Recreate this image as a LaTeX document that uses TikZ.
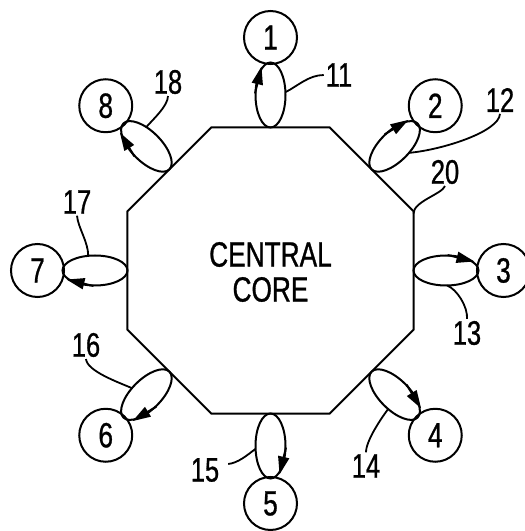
\documentclass[tikz,border=0pt]{standalone}
\usepackage{fontspec}
\setmainfont{Liberation Sans}[FakeStretch=0.75,FakeBold=0.8]
\usetikzlibrary{arrows.meta}
\begin{document}
\begin{tikzpicture}[x=1pt,y=1pt,
  line width=2pt,
  numcirc/.style={draw,circle,minimum size=53pt,inner sep=0pt,font=\fontsize{35}{35}\selectfont},
  lbl/.style={inner sep=1pt,font=\fontsize{34}{34}\selectfont},
  leader/.style={line width=1.8pt},
  flowarrow/.style={-{Triangle[length=18pt,width=11pt]}}
]
\useasboundingbox (0,0) rectangle (525,531);
\begin{scope}[shift={(270.5,260.5)}]
  % octagon corners
  \foreach \i/\a in {1/22.5,2/67.5,3/112.5,4/157.5,5/202.5,6/247.5,7/292.5,8/337.5}
    \coordinate (v\i) at (\a:154.8);
  \draw (v1) -- (v2) -- (v3) -- (v4) -- (v5) -- (v6) -- (v7) -- (v8) -- cycle;
  \coordinate (p20) at (143,57);
  \node[align=center,font=\fontsize{35}{35}\selectfont] (core) at (0,-1.5) {CENTRAL\\CORE};
  % loops and numbered circles
  \foreach \k/\ang/\att in {1/90/-85,2/45/-80,3/0/-88,4/-45/-80,5/-90/-85,6/-135/-80,7/180/-78,8/135/-65} {
    \begin{scope}[rotate=\ang]
      \draw (175.5,0) ellipse [x radius=32.5,y radius=15];
      \coordinate (s\k) at (177,15.5);
      \coordinate (t\k) at (204,9);
      \draw[flowarrow] (s\k) -- (t\k);
      \coordinate (a\k) at ([shift={(175.5,0)}]\att:32.5 and 15);
    \end{scope}
    \node[numcirc] (c\k) at (\ang:233) {\k};
  }
\end{scope}
% reference labels
\node[lbl] (l11) at (339,456) {11};
\node[lbl] (l12) at (500,431) {12};
\node[lbl] (l13) at (467,198) {13};
\node[lbl] (l14) at (366,65) {14};
\node[lbl] (l15) at (205,61) {15};
\node[lbl] (l16) at (86,186) {16};
\node[lbl] (l17) at (77,329) {17};
\node[lbl] (l18) at (168,449) {18};
\node[lbl] (l20) at (445,359) {20};
% leader lines
\draw[leader] (l11.west) .. controls +(-15,0) and +(12,6) .. (a1);
\draw[leader] (l12.south) .. controls +(-1,-18) and +(33,3) .. (a2);
\draw[leader] (a3) .. controls +(10,-4) and +(1,12) .. (l13.north);
\draw[leader] (l14.north) .. controls +(0,12) and +(-6,-8) .. (a4);
\draw[leader] ([shift={(7,6)}]l15.east) .. controls +(10,1) and +(-8,-6) .. (a5);
\draw[leader] (l16.south) .. controls +(1,-12) and +(-14,6) .. (a6);
\draw[leader] (l17.south) .. controls +(1,-12) and +(0,14) .. (a7);
\draw[leader] (l18.south) .. controls +(0,-10) and +(6,7) .. (a8);
\draw[leader] (l20.south) .. controls +(-3,-8) and +(0,12) .. (p20);
\end{tikzpicture}
\end{document}
